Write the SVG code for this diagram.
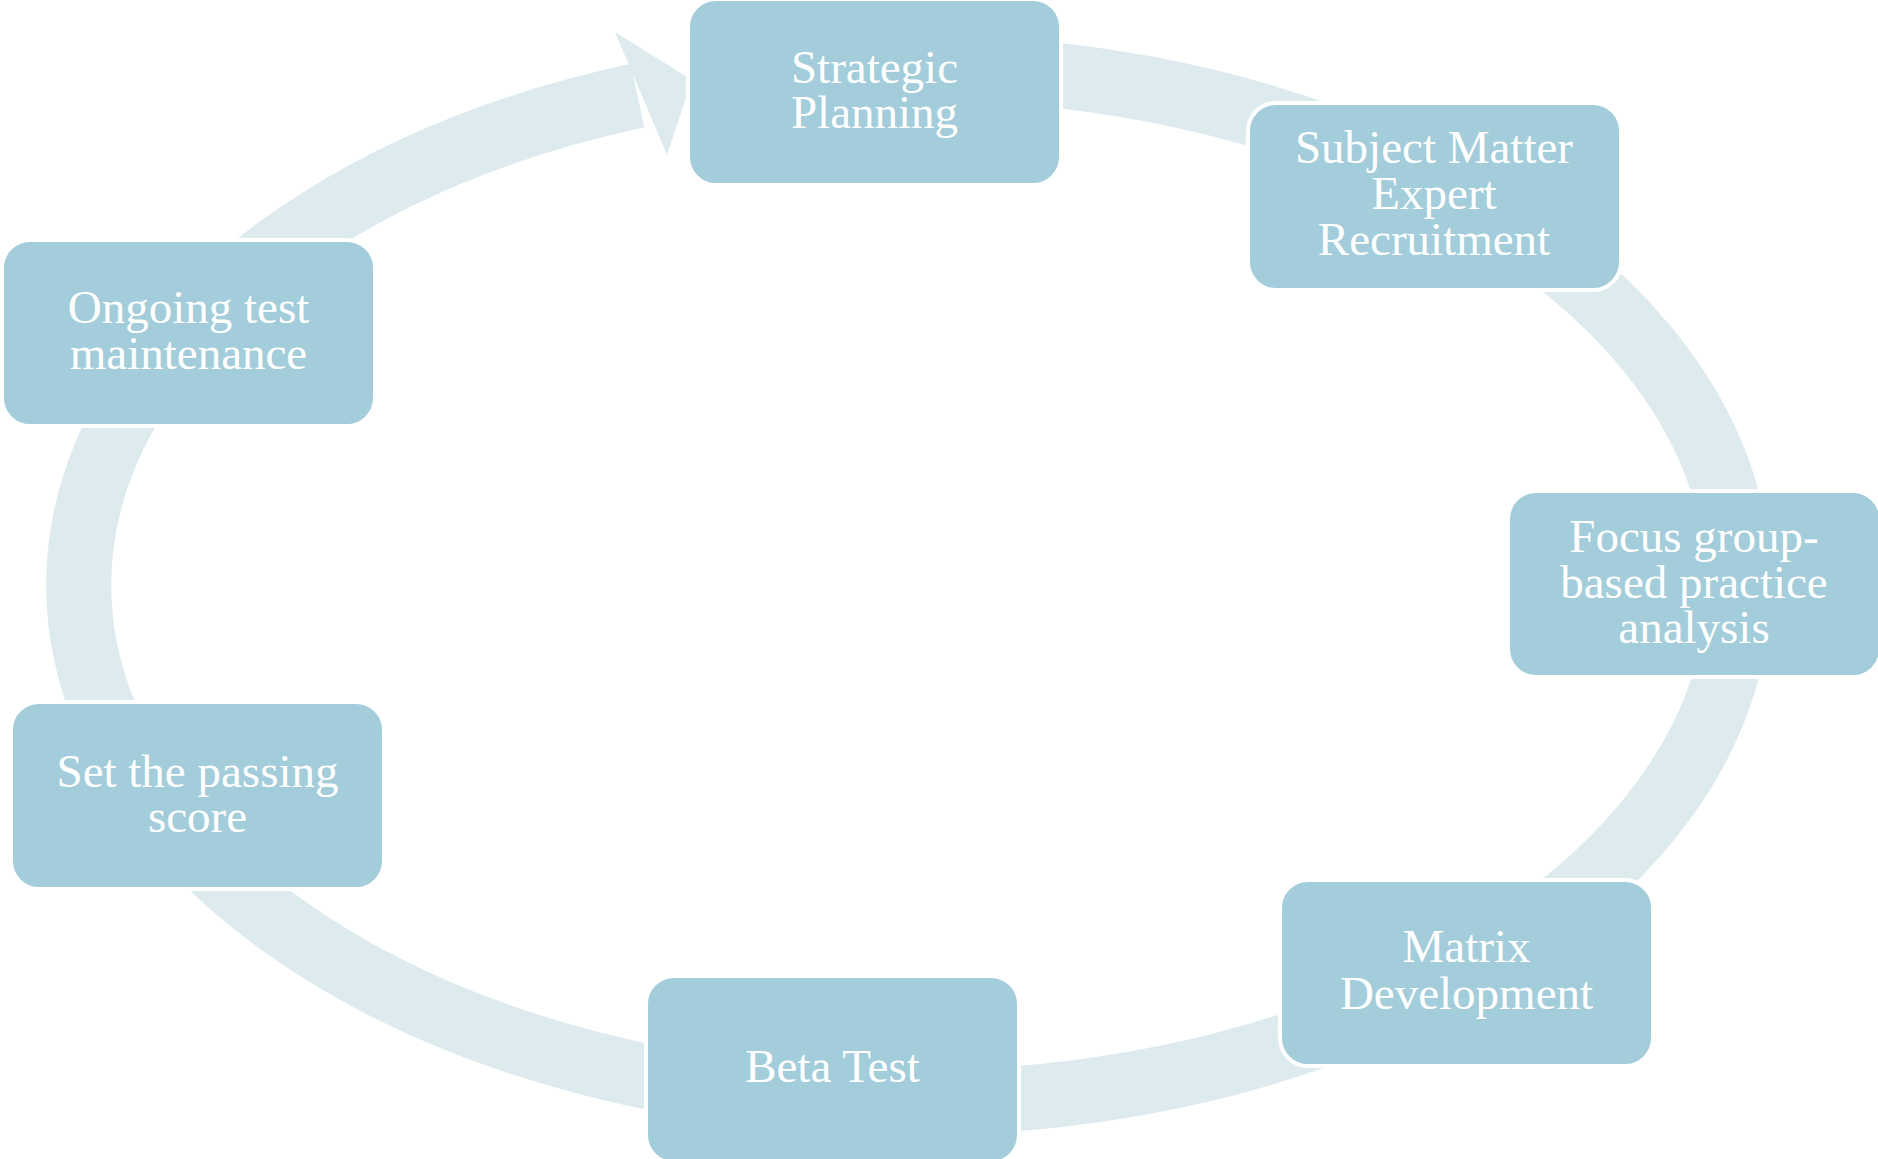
<svg xmlns="http://www.w3.org/2000/svg" width="1878" height="1159" viewBox="0 0 1878 1159">
  <style>
    .ring { fill: none; stroke: #DDEBEF; stroke-width: 65; stroke-linecap: butt; }
    .head { fill: #DDEBEF; }
    .box { fill: #A3CDDA; stroke: #FFFFFF; stroke-width: 4; }
    .label { fill: #FFFFFF; font-family: "Liberation Serif", "DejaVu Serif", serif; font-size: 47px; text-anchor: middle; }
  </style>

  <!-- cycle band: one elliptical arc running clockwise, ending in an arrowhead at the first step -->
  <g id="connectors">
    <path class="ring" d="M 980.3 69.0 A 830 518 0 1 1 637.5 95.5"/>
    <polygon class="head" points="615,32 692,80 667,155"/>
  </g>

  <g id="node-strategic-planning">
    <rect class="box" x="688" y="-1" width="373" height="186" rx="28"/>
    <text class="label" x="874.5" y="83">Strategic</text>
    <text class="label" x="874.5" y="128">Planning</text>
  </g>

  <g id="node-sme-recruitment">
    <rect class="box" x="1248" y="103" width="373" height="187" rx="28"/>
    <text class="label" x="1434" y="163">Subject Matter</text>
    <text class="label" x="1434" y="209">Expert</text>
    <text class="label" x="1434" y="255">Recruitment</text>
  </g>

  <g id="node-practice-analysis">
    <rect class="box" x="1508" y="491" width="373" height="186" rx="28"/>
    <text class="label" x="1694" y="552">Focus group-</text>
    <text class="label" x="1694" y="598">based practice</text>
    <text class="label" x="1694" y="643">analysis</text>
  </g>

  <g id="node-matrix-development">
    <rect class="box" x="1280" y="880" width="373" height="186" rx="28"/>
    <text class="label" x="1466.5" y="962">Matrix</text>
    <text class="label" x="1466.5" y="1009">Development</text>
  </g>

  <g id="node-beta-test">
    <rect class="box" x="646" y="976" width="373" height="187" rx="28"/>
    <text class="label" x="832.5" y="1082">Beta Test</text>
  </g>

  <g id="node-passing-score">
    <rect class="box" x="11" y="702" width="373" height="187" rx="28"/>
    <text class="label" x="197.5" y="787">Set the passing</text>
    <text class="label" x="197.5" y="832">score</text>
  </g>

  <g id="node-test-maintenance">
    <rect class="box" x="2" y="240" width="373" height="186" rx="28"/>
    <text class="label" x="188.5" y="323">Ongoing test</text>
    <text class="label" x="188.5" y="369">maintenance</text>
  </g>
</svg>
